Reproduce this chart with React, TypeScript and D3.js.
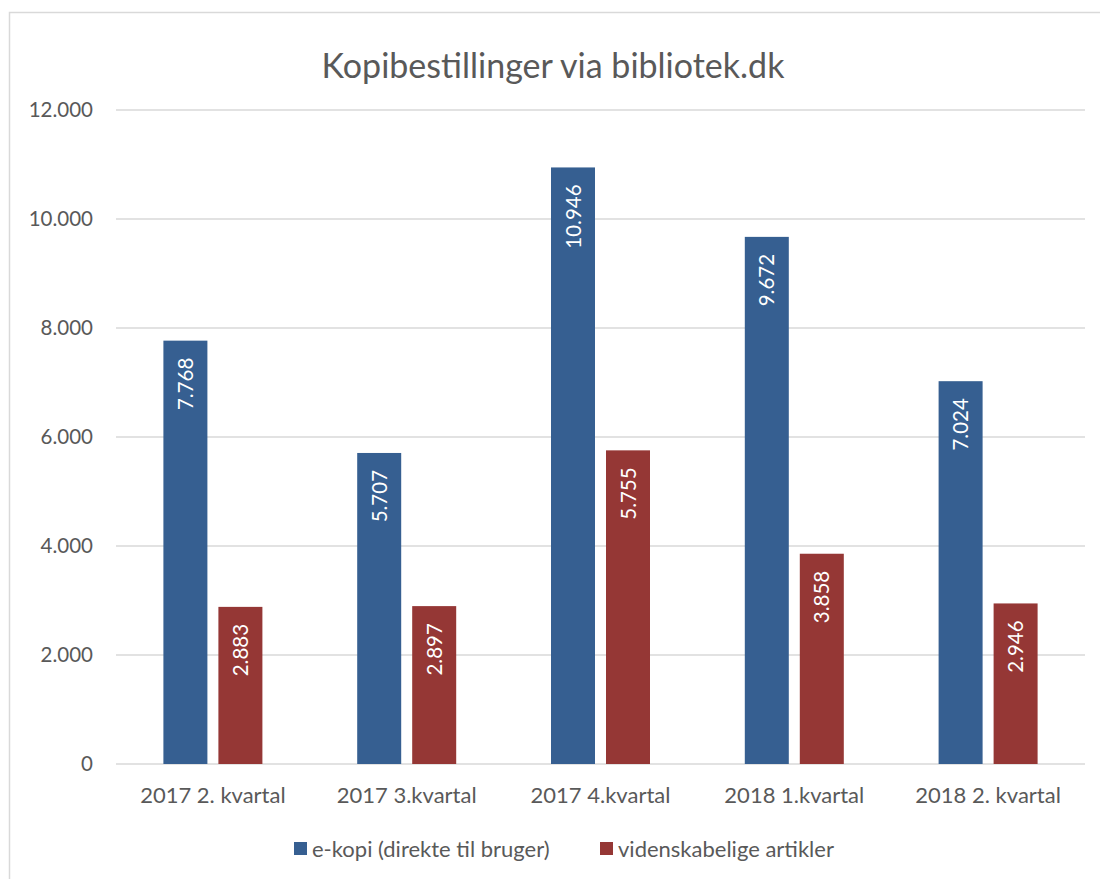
import React from "react";
import * as d3 from "d3";

const categories = ["2017 2. kvartal", "2017 3.kvartal", "2017 4.kvartal", "2018 1.kvartal", "2018 2. kvartal"];
const eKopi = [7768, 5707, 10946, 9672, 7024];
const videnskabelige = [2883, 2897, 5755, 3858, 2946];
const seriesNames = ["e-kopi (direkte til bruger)", "videnskabelige artikler"];
const seriesColors = ["#365F91", "#953735"];
const yTicks = [0, 2000, 4000, 6000, 8000, 10000, 12000];

const locale = d3.formatLocale({ decimal: ",", thousands: ".", grouping: [3], currency: ["", " kr."] });
const fmt = locale.format(",d");

const W = 1100;
const H = 879;
const left = 116;
const right = 1085;
const top = 110;
const bottom = 764;
const FONT = "Lato, 'Open Sans', sans-serif";
const GRAY = "#595959";

export default function App() {
  const x = d3.scaleBand<string>().domain(categories).range([left, right]);
  const y = d3.scaleLinear().domain([0, 12000]).range([bottom, top]);
  const barW = 44;
  const gap = 11;
  const series = [eKopi, videnskabelige];

  return (
    <svg width={W} height={H} style={{ position: "absolute", left: 0, top: 0 }}>
      <rect x={0} y={0} width={W} height={H} fill="#fff" />
      <rect x={9.5} y={12.5} width={1200} height={1000} fill="#fff" stroke="#d9d9d9" strokeWidth={1.5} />
      <text x={553} y={78} textAnchor="middle" fontFamily={FONT} fontSize={34} fill={GRAY}>
        Kopibestillinger via bibliotek.dk
      </text>
      {yTicks.map((t) => (
        <g key={t}>
          <line x1={left} x2={right} y1={y(t)} y2={y(t)} stroke="#d9d9d9" strokeWidth={1.5} />
          <text x={93} y={y(t) + 7} textAnchor="end" fontFamily={FONT} fontSize={20.5} fill={GRAY}>
            {fmt(t)}
          </text>
        </g>
      ))}
      {categories.map((c, i) => {
        const cx = (x(c) as number) + x.bandwidth() / 2;
        return (
          <g key={c}>
            {series.map((s, si) => {
              const bx = si === 0 ? cx - gap / 2 - barW : cx + gap / 2;
              const by = y(s[i]);
              const lx = bx + barW / 2 + 7.5;
              const ly = by + 17;
              return (
                <g key={si}>
                  <rect x={bx} y={by} width={barW} height={bottom - by} fill={seriesColors[si]} />
                  <text
                    transform={`translate(${lx},${ly}) rotate(-90)`}
                    textAnchor="end"
                    fontFamily={FONT}
                    fontSize={20.5}
                    fill="#fff"
                  >
                    {fmt(s[i])}
                  </text>
                </g>
              );
            })}
            <text x={cx} y={803} textAnchor="middle" fontFamily={FONT} fontSize={22} fill={GRAY}>
              {c}
            </text>
          </g>
        );
      })}
      <rect x={294} y={842} width={13} height={13} fill={seriesColors[0]} />
      <text x={312} y={857} fontFamily={FONT} fontSize={22} fill={GRAY}>{seriesNames[0]}</text>
      <rect x={600} y={842} width={13} height={13} fill={seriesColors[1]} />
      <text x={618} y={857} fontFamily={FONT} fontSize={22} fill={GRAY}>{seriesNames[1]}</text>
    </svg>
  );
}
